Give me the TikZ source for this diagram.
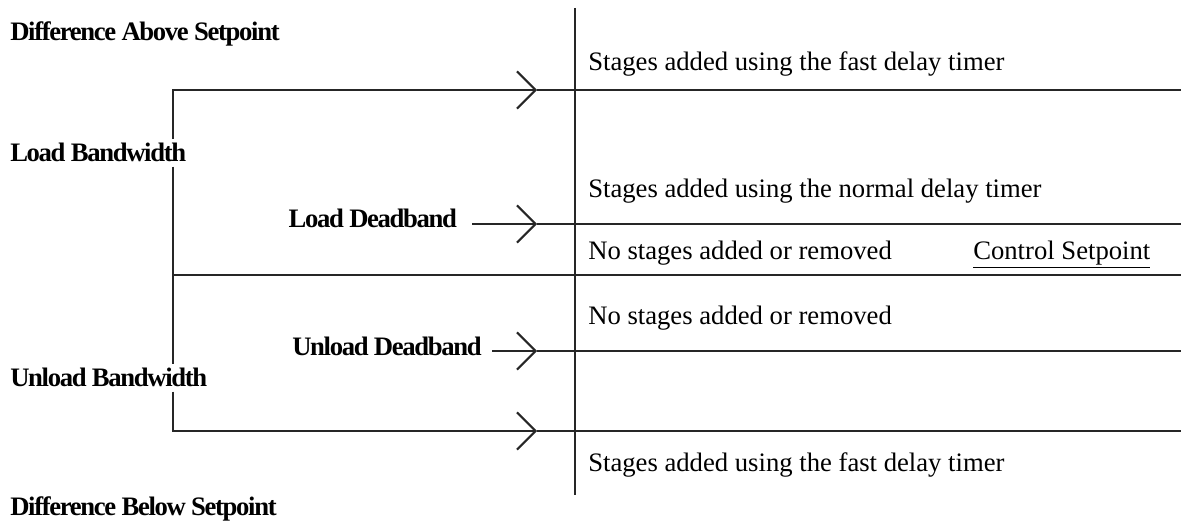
\documentclass[tikz,border=0pt]{standalone}
\usepackage{fontspec}
\setmainfont{Liberation Serif}
\usetikzlibrary{arrows.meta,positioning}

\begin{document}
\begin{tikzpicture}[
  x=0.75pt, y=-0.75pt,
  lbl/.style={font=\fontsize{20}{23}\selectfont\bfseries\addfontfeature{LetterSpace=-5}, inner xsep=0pt, inner ysep=3pt, anchor=base west},
  zone/.style={font=\fontsize{20}{23}\selectfont, inner sep=0pt, anchor=base west},
  rule/.style={line width=1.5pt, draw=black!85},
  band/.style={rule, -{Straight Barb[length=14pt,width=28pt,line width=1.5pt]}}
]
\useasboundingbox (0,0) rectangle (1181,523);
\coordinate (axtop) at (575,8);
\coordinate (axbot) at (575,495);
\coordinate (ltop) at (173,90);
\coordinate (lmid) at (173,275);
\coordinate (lbot) at (173,431);
\coordinate (toptip) at (537,90);
\coordinate (ldtip) at (537,224);
\coordinate (udtip) at (537,351);
\coordinate (bottip) at (537,431);
\node[lbl] (diffabove) at (10,41) {Difference Above Setpoint};
\node[lbl] (loadbw) at (10,162) {Load Bandwidth};
\node[lbl, anchor=base east, inner xsep=11pt] (loaddb) at (472,228) {Load Deadband};
\node[lbl, anchor=base east, inner xsep=7.5pt] (unloaddb) at (492,356) {Unload Deadband};
\node[lbl] (unloadbw) at (10,387) {Unload Bandwidth};
\node[lbl] (diffbelow) at (10,515) {Difference Below Setpoint};
\node[zone] (fasthi) at (588,71) {Stages added using the fast delay timer};
\node[zone] (normal) at (588,198) {Stages added using the normal delay timer};
\node[zone] (noneup) at (588,260) {No stages added or removed};
\node[zone] (setpt) at (973,260) {\underline{Control Setpoint}};
\node[zone] (nonedn) at (588,325) {No stages added or removed};
\node[zone] (fastlo) at (588,472) {Stages added using the fast delay timer};
\draw[rule] (axtop) -- (axbot);
\draw[band] (loadbw.north -| ltop) -- (ltop) -- (toptip);
\draw[rule] (toptip) -- (1181,90);
\draw[rule] (loadbw.south -| ltop) -- (lmid) -- (1181,275);
\draw[rule] (lmid) -- (unloadbw.north -| lmid);
\draw[band] (unloadbw.south -| lbot) -- (lbot) -- (bottip);
\draw[rule] (bottip) -- (1181,431);
\draw[band] (loaddb.east |- ldtip) -- (ldtip);
\draw[rule] (ldtip) -- (1181,224);
\draw[band] (unloaddb.east |- udtip) -- (udtip);
\draw[rule] (udtip) -- (1181,351);
\end{tikzpicture}
\end{document}
